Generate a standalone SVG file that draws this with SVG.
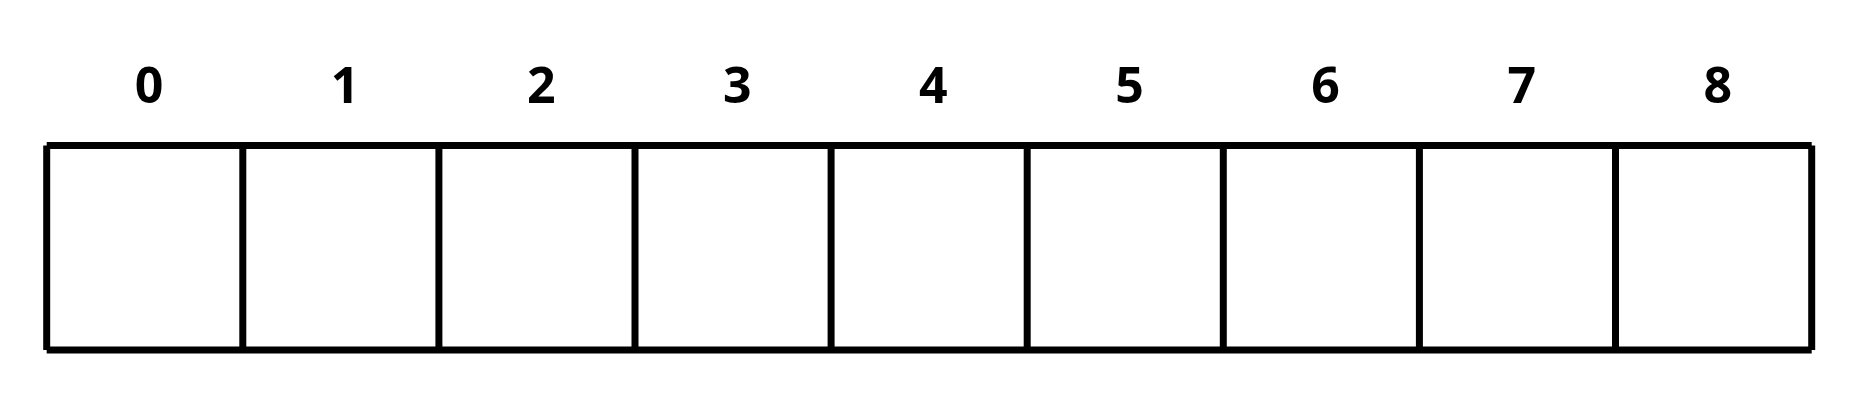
<svg xmlns="http://www.w3.org/2000/svg" width="1857" height="409" viewBox="0 0 1857 409">
<style>
.ln{stroke:#000;stroke-width:7;stroke-linecap:butt;fill:none}
.lb{font-family:"Open Sans","Noto Sans",sans-serif;font-weight:700;font-size:50px;fill:#000;text-anchor:middle}
</style>
<rect width="1857" height="409" fill="#fff"/>
<g id="frame">
<line class="ln" x1="46.7" y1="145.5" x2="1811.7" y2="145.5"/>
<line class="ln" x1="46.7" y1="350" x2="1811.7" y2="350"/>
</g>
<g id="cell0"><line class="ln" x1="46.7" y1="145.5" x2="46.7" y2="350"/><text class="lb" x="149" y="102.5">0</text></g>
<g id="cell1"><line class="ln" x1="242.8" y1="145.5" x2="242.8" y2="350"/><text class="lb" x="345.1" y="102.5">1</text></g>
<g id="cell2"><line class="ln" x1="438.9" y1="145.5" x2="438.9" y2="350"/><text class="lb" x="541.2" y="102.5">2</text></g>
<g id="cell3"><line class="ln" x1="635" y1="145.5" x2="635" y2="350"/><text class="lb" x="737.3" y="102.5">3</text></g>
<g id="cell4"><line class="ln" x1="831.1" y1="145.5" x2="831.1" y2="350"/><text class="lb" x="933.4" y="102.5">4</text></g>
<g id="cell5"><line class="ln" x1="1027.2" y1="145.5" x2="1027.2" y2="350"/><text class="lb" x="1129.5" y="102.5">5</text></g>
<g id="cell6"><line class="ln" x1="1223.3" y1="145.5" x2="1223.3" y2="350"/><text class="lb" x="1325.6" y="102.5">6</text></g>
<g id="cell7"><line class="ln" x1="1419.4" y1="145.5" x2="1419.4" y2="350"/><text class="lb" x="1521.7" y="102.5">7</text></g>
<g id="cell8"><line class="ln" x1="1615.5" y1="145.5" x2="1615.5" y2="350"/><line class="ln" x1="1811.7" y1="145.5" x2="1811.7" y2="350"/><text class="lb" x="1717.8" y="102.5">8</text></g>
</svg>
